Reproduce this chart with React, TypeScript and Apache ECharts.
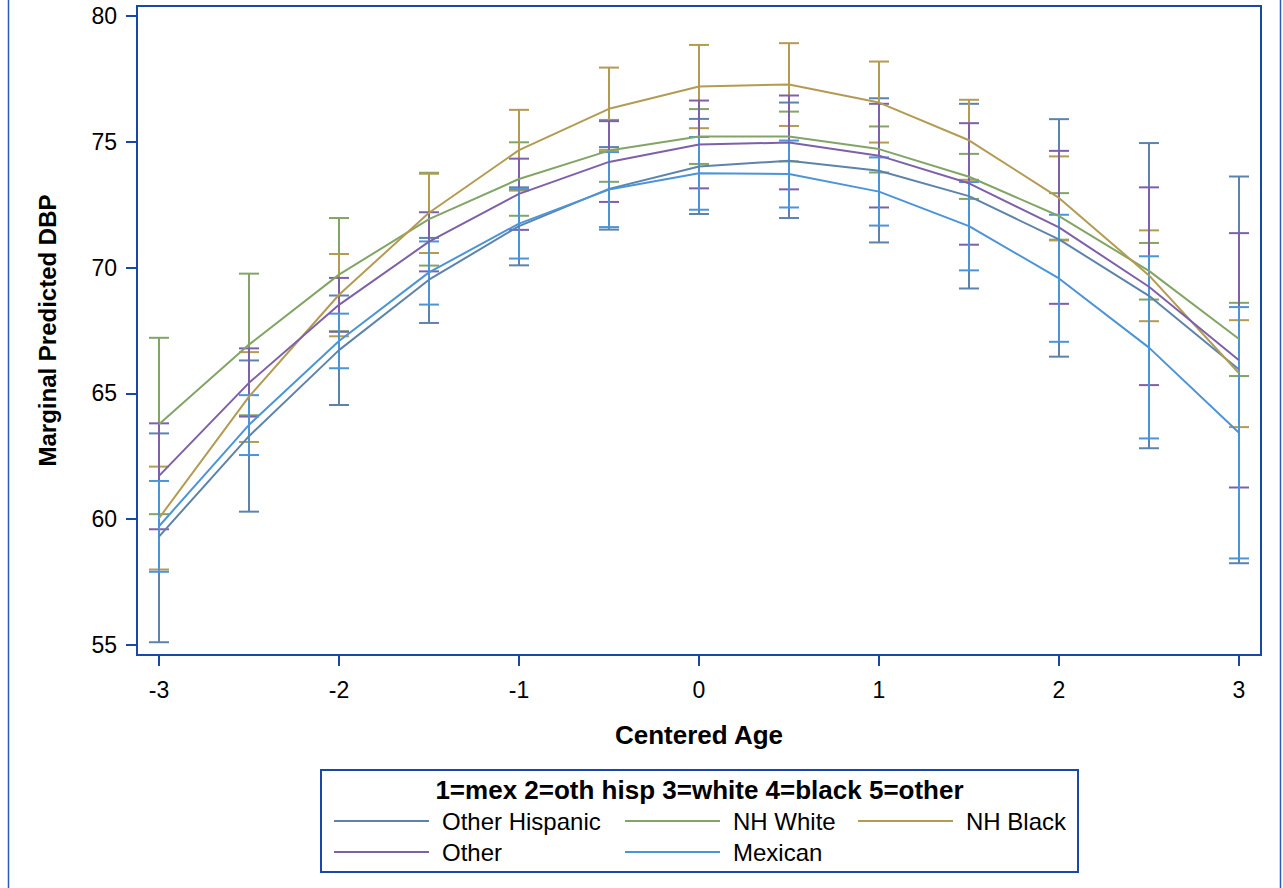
import React, { useEffect, useRef } from "react";
import * as echarts from "echarts";

const ages = [-3, -2.5, -2, -1.5, -1, -0.5, 0, 0.5, 1, 1.5, 2, 2.5, 3];

const groupNames = ["Other Hispanic", "NH White", "NH Black", "Other", "Mexican"];
const groupColors = ["#5d83ac", "#82a566", "#b39b52", "#7e60aa", "#4c94d8"];

const ohMean = [59.31, 63.3, 66.72, 69.52, 71.65, 73.13, 74.02, 74.25, 73.85, 72.84, 71.12, 68.88, 65.95];
const ohLow = [55.11, 60.3, 64.54, 67.8, 70.09, 71.51, 72.13, 71.97, 71.0, 69.17, 66.46, 62.82, 58.25];
const ohHigh = [63.41, 66.31, 68.89, 71.18, 73.19, 74.79, 75.91, 76.56, 76.73, 76.51, 75.9, 74.95, 73.62];

const nwMean = [63.77, 66.94, 69.72, 71.93, 73.52, 74.65, 75.21, 75.21, 74.71, 73.61, 72.05, 69.87, 67.16];
const nwLow = [60.2, 64.13, 67.47, 70.08, 72.06, 73.41, 74.12, 74.22, 73.78, 72.73, 71.11, 68.73, 65.69];
const nwHigh = [67.21, 69.76, 71.97, 73.77, 74.98, 75.87, 76.3, 76.2, 75.61, 74.52, 72.96, 70.98, 68.6];

const nbMean = [60.04, 64.87, 68.92, 72.18, 74.67, 76.31, 77.2, 77.28, 76.56, 75.06, 72.77, 69.69, 65.8];
const nbLow = [58.0, 63.07, 67.27, 70.58, 73.06, 74.68, 75.54, 75.63, 74.97, 73.49, 71.08, 67.87, 63.66];
const nbHigh = [62.09, 66.64, 70.54, 73.73, 76.27, 77.95, 78.85, 78.92, 78.19, 76.67, 74.42, 71.48, 67.91];

const otMean = [61.72, 65.42, 68.52, 71.03, 72.93, 74.2, 74.89, 74.97, 74.45, 73.35, 71.6, 69.24, 66.32];
const otLow = [59.6, 64.08, 67.45, 69.85, 71.5, 72.61, 73.15, 73.11, 72.39, 70.91, 68.56, 65.33, 61.26];
const otHigh = [63.81, 66.79, 69.59, 72.2, 74.33, 75.82, 76.64, 76.84, 76.51, 75.74, 74.64, 73.19, 71.37];

const mxMean = [59.72, 63.75, 67.08, 69.81, 71.75, 73.1, 73.75, 73.72, 73.02, 71.65, 69.57, 66.82, 63.44];
const mxLow = [57.91, 62.55, 66.0, 68.53, 70.36, 71.61, 72.3, 72.39, 71.67, 69.89, 67.05, 63.21, 58.44];
const mxHigh = [61.52, 64.93, 68.17, 71.04, 73.12, 74.59, 75.19, 75.05, 74.38, 73.4, 72.1, 70.45, 68.43];

const yTicks = { min: 55, max: 80, interval: 5 };
const xTicks = { min: -3, max: 3, interval: 1 };

const xTitle = "Centered Age";
const yTitle = "Marginal Predicted DBP";
const legendTitle = "1=mex 2=oth hisp 3=white 4=black 5=other";

const means = [ohMean, nwMean, nbMean, otMean, mxMean];
const lows = [ohLow, nwLow, nbLow, otLow, mxLow];
const highs = [ohHigh, nwHigh, nbHigh, otHigh, mxHigh];

const FONT = "'Liberation Sans', Arial, sans-serif";
const AXIS_BLUE = "#1a48a8";

export default function App() {
  const ref = useRef<HTMLDivElement>(null);

  useEffect(() => {
    if (!ref.current) return;
    const chart = echarts.init(ref.current, null, { renderer: "svg" });

    const lineSeries = groupNames.map((name, i) => ({
      name,
      type: "line",
      data: ages.map((a, j) => [a, means[i][j]]),
      showSymbol: false,
      symbol: "none",
      lineStyle: { color: groupColors[i], width: 2 },
      itemStyle: { color: groupColors[i] },
      z: 3,
    }));

    const errSeries = groupNames.map((name, i) => ({
      name: name + " CI",
      type: "custom",
      data: ages.map((a, j) => [a, lows[i][j], highs[i][j]]),
      encode: { x: 0, y: [1, 2] },
      z: 2,
      renderItem: (_params: any, api: any) => {
        const x = api.value(0);
        const pLo = api.coord([x, api.value(1)]);
        const pHi = api.coord([x, api.value(2)]);
        const hw = 10;
        const style = { stroke: groupColors[i], lineWidth: 2 };
        return {
          type: "group",
          children: [
            { type: "line", shape: { x1: pLo[0], y1: pLo[1], x2: pHi[0], y2: pHi[1] }, style },
            { type: "line", shape: { x1: pLo[0] - hw, y1: pLo[1], x2: pLo[0] + hw, y2: pLo[1] }, style },
            { type: "line", shape: { x1: pHi[0] - hw, y1: pHi[1], x2: pHi[0] + hw, y2: pHi[1] }, style },
          ],
        };
      },
    }));

    const legendPos = [
      [334, 808],
      [625, 808],
      [858, 808],
      [334, 839],
      [625, 839],
    ];

    const legends = groupNames.map((name, i) => ({
      data: [name],
      left: legendPos[i][0],
      top: legendPos[i][1],
      padding: 0,
      itemWidth: 95,
      itemHeight: 2,
      icon: "rect",
      selectedMode: false,
      textStyle: {
        fontFamily: FONT,
        fontSize: 24,
        color: "#000",
        lineHeight: 26,
        padding: [0, 0, 0, 8],
      },
    }));

    chart.setOption({
      animation: false,
      backgroundColor: "#fff",
      grid: { left: 159, right: 44, top: 16, bottom: 243, containLabel: false },
      xAxis: {
        type: "value",
        min: xTicks.min,
        max: xTicks.max,
        interval: xTicks.interval,
        offset: 10,
        name: xTitle,
        nameLocation: "middle",
        nameGap: 67,
        nameTextStyle: { fontFamily: FONT, fontSize: 26, fontWeight: "bold", color: "#000" },
        axisLine: { show: false, onZero: false },
        axisTick: { show: true, length: 11, lineStyle: { color: AXIS_BLUE, width: 2 } },
        axisLabel: { fontFamily: FONT, fontSize: 23, color: "#000", margin: 23 },
        splitLine: { show: false },
      },
      yAxis: {
        type: "value",
        min: yTicks.min,
        max: yTicks.max,
        interval: yTicks.interval,
        offset: 22,
        name: yTitle,
        nameLocation: "middle",
        nameRotate: 90,
        nameGap: 78,
        nameTextStyle: { fontFamily: FONT, fontSize: 24, fontWeight: "bold", color: "#000" },
        axisLine: { show: false, onZero: false },
        axisTick: { show: true, length: 11, lineStyle: { color: AXIS_BLUE, width: 2 } },
        axisLabel: { fontFamily: FONT, fontSize: 23, color: "#000", margin: 20 },
        splitLine: { show: false },
      },
      legend: legends,
      graphic: [
        {
          type: "rect",
          shape: { x: 137, y: 6, width: 1124, height: 649 },
          style: { fill: "none", stroke: AXIS_BLUE, lineWidth: 2 },
          silent: true,
          z: 1,
        },
        {
          type: "rect",
          shape: { x: 321, y: 770, width: 757, height: 102 },
          style: { fill: "none", stroke: AXIS_BLUE, lineWidth: 2 },
          silent: true,
        },
        {
          type: "text",
          x: 699.5,
          y: 790,
          style: {
            text: legendTitle,
            fontFamily: FONT,
            fontSize: 26,
            fontWeight: "bold",
            fill: "#000",
            textAlign: "center",
            textVerticalAlign: "middle",
          },
          silent: true,
        },
        {
          type: "line",
          shape: { x1: 8.5, y1: 0, x2: 8.5, y2: 888 },
          style: { stroke: "#2a5cc0", lineWidth: 1.5 },
          silent: true,
        },
        {
          type: "line",
          shape: { x1: 1280.5, y1: 0, x2: 1280.5, y2: 888 },
          style: { stroke: "#2a5cc0", lineWidth: 1.5 },
          silent: true,
        },
      ],
      series: [...errSeries, ...lineSeries],
    });

    return () => chart.dispose();
  }, []);

  return (
    <div
      ref={ref}
      style={{ position: "absolute", left: 0, top: 0, width: 1283, height: 888 }}
    />
  );
}
